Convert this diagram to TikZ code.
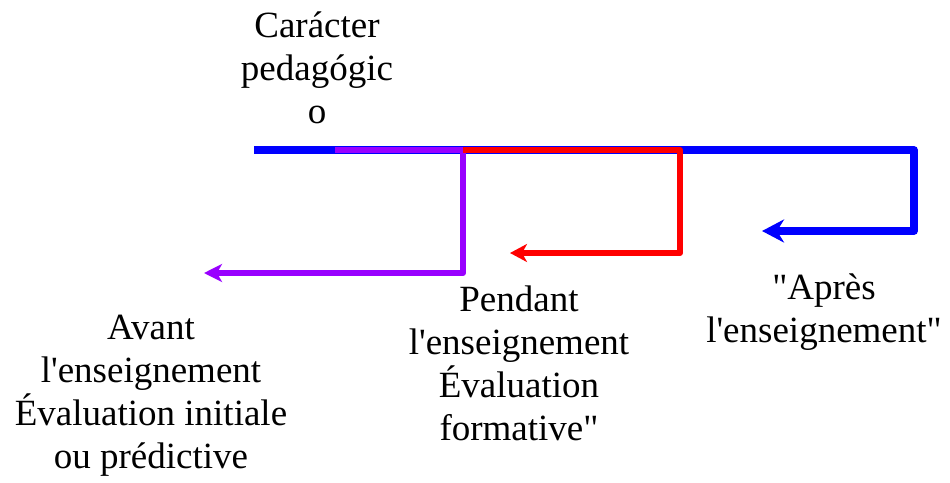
\documentclass[tikz,border=0pt]{standalone}
\usepackage{fontspec}
\setmainfont{Liberation Serif}[Ligatures=TeXOff]
\usetikzlibrary{arrows.meta}
\definecolor{cblue}{RGB}{0,0,255}
\definecolor{cpurple}{RGB}{153,0,255}
\definecolor{cred}{RGB}{255,0,0}
\tikzset{
  lbl/.style={align=center, anchor=base, inner sep=0pt, font=\fontsize{37}{43}\selectfont},
  blueline/.style={draw=cblue, line width=7.5pt, line join=round, -{Stealth[length=22pt,width=23pt,inset=7pt]}},
  purpleline/.style={draw=cpurple, line width=6pt, line join=round, -{Stealth[length=18pt,width=18pt,inset=5pt]}},
  redline/.style={draw=cred, line width=6pt, line join=round, -{Stealth[length=17pt,width=18pt,inset=5pt]}}
}
\begin{document}
\begin{tikzpicture}[x=1pt,y=-1pt]
\useasboundingbox (0,0) rectangle (950,482);
% coordinates
\coordinate (b0) at (254,150);
\coordinate (b1) at (914,150);
\coordinate (b2) at (914,231);
\coordinate (b3) at (762,231);
\coordinate (p0) at (335,150);
\coordinate (p1) at (463,150);
\coordinate (p2) at (463,273);
\coordinate (p3) at (204,273);
\coordinate (r0) at (463,150);
\coordinate (r1) at (680,150);
\coordinate (r2) at (680,253);
\coordinate (r3) at (510,253);
% lines
\draw[blueline] (b0) -- (b1) -- (b2) -- (b3);
\draw[purpleline] (p0) -- (p1) -- (p2) -- (p3);
\draw[redline] (r0) -- (r1) -- (r2) -- (r3);
% labels (anchor=base is the baseline of the last line)
\node[lbl] (title) at (317,123) {Carácter\\pedagógic\\o};
\node[lbl] (avant) at (151,468) {Avant\\l'enseignement\\Évaluation initiale\\ou prédictive};
\node[lbl] (pendant) at (519,440) {Pendant\\l'enseignement\\Évaluation\\formative"};
\node[lbl] (apres) at (824,342) {"Après\\l'enseignement"};
\end{tikzpicture}
\end{document}
